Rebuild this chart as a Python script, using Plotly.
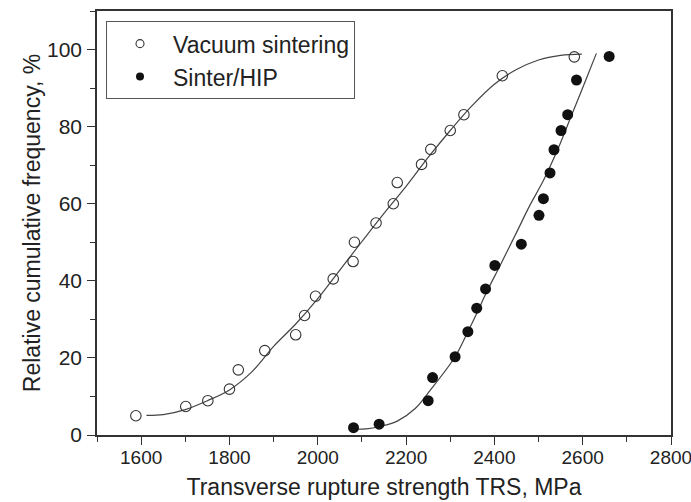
import plotly.graph_objects as go

# Vacuum sintering (open circles)
vac_x = [1588, 1701, 1751, 1800, 1820, 1880, 1950, 1970, 1995, 2035, 2080, 2083,
         2132, 2171, 2180, 2235, 2256, 2300, 2331, 2418, 2581]
vac_y = [5.0, 7.4, 8.9, 11.9, 16.9, 21.9, 26.0, 31.0, 36.0, 40.5, 45.0, 50.0,
         55.0, 60.0, 65.5, 70.2, 74.1, 79.0, 83.1, 93.2, 98.1]

# Sinter/HIP (filled circles)
hip_x = [2081, 2139, 2250, 2260, 2311, 2340, 2360, 2380, 2401, 2461, 2501, 2511,
         2526, 2535, 2551, 2566, 2586, 2660]
hip_y = [1.9, 2.8, 8.9, 14.9, 20.3, 26.8, 32.9, 37.9, 44.0, 49.5, 57.0, 61.3,
         68.0, 74.0, 79.0, 83.1, 92.1, 98.2]

# Fitted curves
vac_fit_x = [1612, 1650, 1700, 1750, 1800, 1850, 1900, 1950, 2000, 2050, 2100,
             2150, 2200, 2250, 2300, 2350, 2400, 2450, 2500, 2550, 2598]
vac_fit_y = [5.1, 5.3, 6.6, 8.9, 11.7, 16.3, 23.0, 28.8, 35.4, 42.8, 50.2,
             57.5, 64.5, 72.0, 79.0, 85.5, 91.0, 94.8, 97.3, 98.5, 98.8]

hip_fit_x = [2080, 2110, 2140, 2180, 2220, 2254, 2311, 2340, 2360, 2380, 2413,
             2450, 2480, 2511, 2545, 2575, 2605, 2631]
hip_fit_y = [1.5, 1.6, 2.2, 3.6, 6.8, 11.5, 20.3, 26.8, 31.5, 36.5, 44.0,
             52.5, 59.5, 66.0, 74.5, 83.0, 91.5, 99.0]

x_ticks = [1600, 1800, 2000, 2200, 2400, 2600, 2800]
y_ticks = [0, 20, 40, 60, 80, 100]

FONT = "Arial, Liberation Sans, sans-serif"
DARK = "#222222"

fig = go.Figure()

fig.add_trace(go.Scatter(x=vac_fit_x, y=vac_fit_y, mode="lines", line_shape="spline",
                         line=dict(color="#444444", width=1.2), showlegend=False,
                         hoverinfo="skip"))
fig.add_trace(go.Scatter(x=hip_fit_x, y=hip_fit_y, mode="lines", line_shape="spline",
                         line=dict(color="#444444", width=1.2), showlegend=False,
                         hoverinfo="skip"))

fig.add_trace(go.Scatter(x=vac_x, y=vac_y, mode="markers", name="Vacuum sintering",
                         marker=dict(symbol="circle-open", size=10.5,
                                     color="#333333", line=dict(width=1.1)),
                         showlegend=False))
fig.add_trace(go.Scatter(x=hip_x, y=hip_y, mode="markers", name="Sinter/HIP",
                         marker=dict(symbol="circle", size=11, color="#111111"),
                         showlegend=False))

# legend entries (smaller markers as in the reference)
fig.add_trace(go.Scatter(x=[None], y=[None], mode="markers", name="Vacuum sintering",
                         marker=dict(symbol="circle-open", size=8, color="#333333",
                                     line=dict(width=1.1))))
fig.add_trace(go.Scatter(x=[None], y=[None], mode="markers", name="Sinter/HIP",
                         marker=dict(symbol="circle", size=8, color="#111111")))

axis_common = dict(showline=True, linecolor="#333333", linewidth=1.6, mirror=True,
                   ticks="outside", tickcolor="#333333", tickwidth=1.3, ticklen=8,
                   showgrid=False, zeroline=False, automargin=False,
                   ticklabeloverflow="allow")

fig.update_xaxes(range=[1500, 2800], tickvals=x_ticks,
                 ticktext=[str(v) for v in x_ticks],
                 tickfont=dict(family=FONT, size=19, color=DARK),
                 ticklabelstandoff=-4,
                 minor=dict(ticks="outside", ticklen=5, dtick=100, tick0=1500,
                            tickcolor="#333333", tickwidth=1.2),
                 title=dict(text="Transverse rupture strength TRS, MPa",
                            font=dict(family=FONT, size=23, color=DARK), standoff=12),
                 **axis_common)
fig.update_yaxes(range=[0, 110], tickvals=y_ticks,
                 ticktext=[str(v) for v in y_ticks],
                 tickfont=dict(family=FONT, size=21, color=DARK),
                 ticklabelstandoff=1,
                 minor=dict(ticks="outside", ticklen=5, dtick=10, tick0=0,
                            tickcolor="#333333", tickwidth=1.2),
                 title=dict(text="Relative cumulative frequency, %",
                            font=dict(family=FONT, size=23, color=DARK), standoff=0),
                 **axis_common)

fig.update_layout(
    width=691, height=502,
    margin=dict(l=97, r=20, t=11, b=67),
    paper_bgcolor="white", plot_bgcolor="white",
    font=dict(family=FONT, color=DARK),
    legend=dict(x=0.0157, y=0.976, xanchor="left", yanchor="top",
                bgcolor="white", bordercolor="#555555", borderwidth=1,
                font=dict(family=FONT, size=23, color=DARK),
                itemwidth=56, tracegroupgap=0),
)

fig.write_html("out.html", config={"displayModeBar": False},
               post_script="document.body.style.margin='0';document.body.style.overflow='hidden';")
